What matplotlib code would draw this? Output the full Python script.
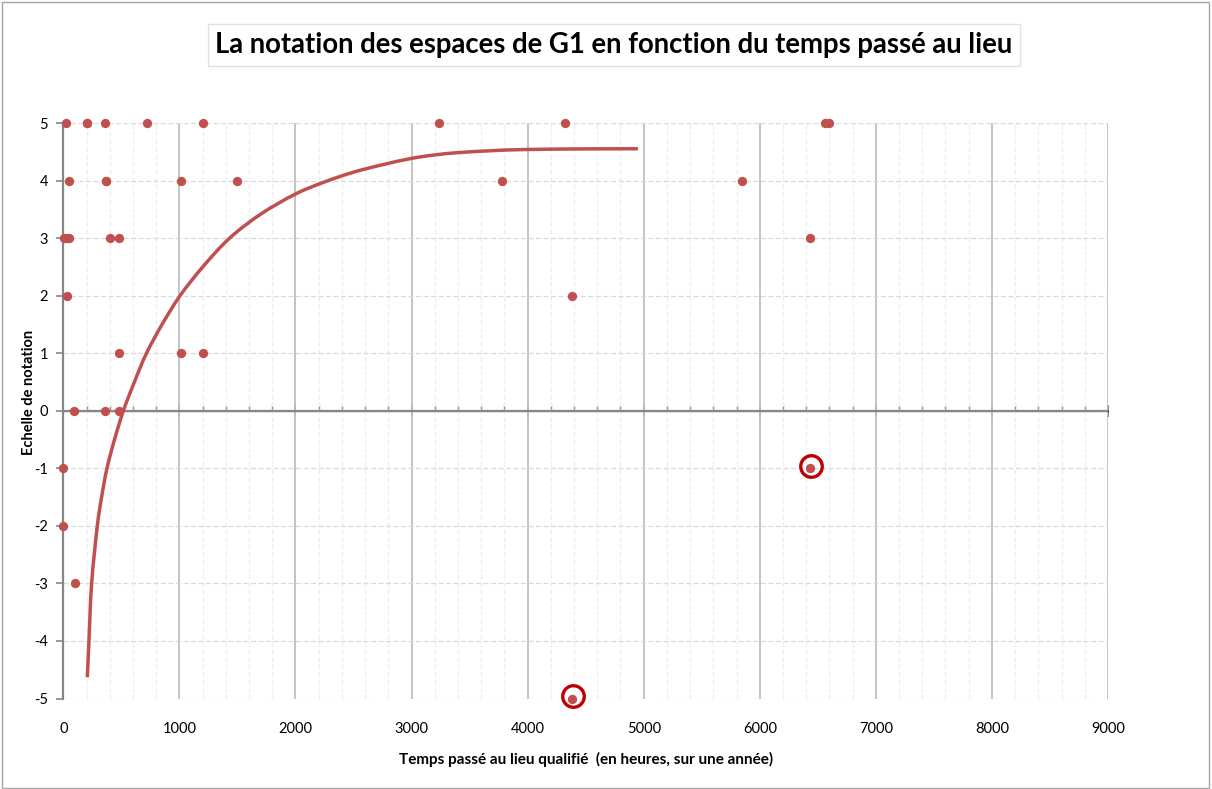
import matplotlib
matplotlib.use("Agg")
import matplotlib.pyplot as plt
import matplotlib.transforms as mtransforms
from matplotlib.patches import Rectangle, PathPatch
from matplotlib.path import Path
from matplotlib.ticker import MultipleLocator

plt.rcParams['font.family'] = ['Lato', 'DejaVu Sans']

# Survey answers: hours spent at the place vs. rating given
hours_5 = [20, 200, 200, 360, 720, 1200, 3240, 4320, 6560, 6600]
hours_4 = [50, 365, 365, 1010, 1500, 3780, 5845]
hours_3 = [5, 30, 50, 400, 480, 6430]
hours_2 = [35, 4380]
hours_1 = [480, 1010, 1200]
hours_0 = [90, 360, 480]
hours_m1 = [0, 6430]
hours_m2 = [0]
hours_m3 = [100]
hours_m5 = [4380]

# Answers singled out with a ring
flag_hours = [6430, 4380]
flag_scores = [-1, -5]

# Hand-traced trend curve
trend_hours = [207, 221, 244, 293, 330, 376, 441, 517, 612, 716, 850, 1005,
               1200, 1431, 1700, 2000, 2250, 2500, 2750, 3000, 3200, 3400,
               3700, 4000, 4500, 4950]
trend_scores = [-4.63, -4.0, -3.0, -2.0, -1.5, -1.0, -0.5, 0.0, 0.5, 1.0, 1.5,
                2.0, 2.5, 3.0, 3.42, 3.77, 3.98, 4.15, 4.28, 4.39, 4.45, 4.49,
                4.525, 4.545, 4.555, 4.557]

x_ticks = [0, 1000, 2000, 3000, 4000, 5000, 6000, 7000, 8000, 9000]
y_ticks = [-5, -4, -3, -2, -1, 0, 1, 2, 3, 4, 5]

groups = [(hours_5, 5), (hours_4, 4), (hours_3, 3), (hours_2, 2), (hours_1, 1),
          (hours_0, 0), (hours_m1, -1), (hours_m2, -2), (hours_m3, -3),
          (hours_m5, -5)]

RED = '#C0504D'
AXIS = '#868686'


def smooth_path(xs, ys):
    """Catmull-Rom spline through the traced points, as cubic Bezier segments."""
    pts = list(zip(xs, ys))
    verts = [pts[0]]
    codes = [Path.MOVETO]
    n = len(pts)
    for i in range(n - 1):
        p0 = pts[i - 1] if i > 0 else pts[i]
        p1 = pts[i]
        p2 = pts[i + 1]
        p3 = pts[i + 2] if i + 2 < n else pts[i + 1]
        c1 = (p1[0] + (p2[0] - p0[0]) / 6, p1[1] + (p2[1] - p0[1]) / 6)
        c2 = (p2[0] - (p3[0] - p1[0]) / 6, p2[1] - (p3[1] - p1[1]) / 6)
        verts += [c1, c2, p2]
        codes += [Path.CURVE4] * 3
    return Path(verts, codes)


W, H = 1212, 789
fig = plt.figure(figsize=(W / 100, H / 100), dpi=100)
fig.patch.set_facecolor('white')
fig.add_artist(Rectangle((2.5 / W, 1.5 / H), (1209 - 2.5) / W, (787.5 - 1.5) / H,
                         transform=fig.transFigure, fill=False,
                         edgecolor='#a6a6a6', linewidth=1.0))

left, right = 63.3 / W, 1108 / W
bottom, top = 1 - 698.5 / H, 1 - 123.3 / H
ax = fig.add_axes([left, bottom, right - left, top - bottom])
ax.set_xlim(0, 9000)
ax.set_ylim(-5, 5)

# gridlines
ax.xaxis.set_minor_locator(MultipleLocator(200))
ax.set_xticks(x_ticks)
ax.set_yticks(y_ticks)
ax.grid(axis='y', which='major', color='#d9d9d9', linestyle=(0, (4, 2)), linewidth=0.9, zorder=0)
ax.grid(axis='x', which='minor', color='#eeeeee', linestyle=(0, (4, 2)), linewidth=0.9, zorder=0)
ax.grid(axis='x', which='major', color='#bfbfbf', linestyle='-', linewidth=1.3, zorder=0)
ax.set_axisbelow(True)

for side in ('top', 'right', 'bottom'):
    ax.spines[side].set_visible(False)
ax.spines['left'].set_color(AXIS)
ax.spines['left'].set_linewidth(1.6)

ax.set_xticklabels([str(v) for v in x_ticks])
ax.tick_params(axis='x', which='both', length=0, pad=17, labelsize=10.5, labelcolor='black')
ax.set_yticklabels([str(v) for v in y_ticks])
ax.tick_params(axis='y', which='major', length=5, width=1.2, color=AXIS,
               direction='out', pad=6, labelsize=10.5, labelcolor='black')

# horizontal axis line through zero with its tick marks
ax.axhline(0, color=AXIS, linewidth=1.6, zorder=2)
zx = ax.secondary_xaxis(0.5)
zx.set_xticks(x_ticks)
zx.xaxis.set_minor_locator(MultipleLocator(200))
zx.tick_params(axis='x', which='major', length=8, width=1.3, color=AXIS,
               direction='inout', labelbottom=False)
zx.tick_params(axis='x', which='minor', length=4, width=1.0, color=AXIS,
               direction='out', labelbottom=False)
zx.spines['bottom'].set_visible(False)
zx.set_xticklabels([])

# trend curve
ax.add_patch(PathPatch(smooth_path(trend_hours, trend_scores), facecolor='none',
                       edgecolor=RED, linewidth=2.5, capstyle='butt',
                       joinstyle='round', zorder=3))

# answers
for hrs, score in groups:
    ax.plot(hrs, [score] * len(hrs), linestyle='none', marker='o',
            markersize=6.7, markerfacecolor=RED, markeredgecolor=RED,
            markeredgewidth=0, zorder=4, clip_on=False)

# rings around the singled-out answers
ring_tr = mtransforms.offset_copy(ax.transData, fig=fig, x=1.5, y=2.5, units='dots')
ax.plot(flag_hours, flag_scores, linestyle='none', marker='o', markersize=15.5,
        markerfacecolor='none', markeredgecolor='#C00000', markeredgewidth=2.4,
        transform=ring_tr, zorder=5, clip_on=False)

# titles
fig.text(614 / W, 1 - 45 / H,
         'La notation des espaces de G1 en fonction du temps passé au lieu',
         ha='center', va='center', fontsize=19.8, fontweight='bold', color='black',
         bbox=dict(boxstyle='square,pad=0.28', facecolor='white',
                   edgecolor='#e3e3d6', linewidth=1.0))
fig.text(586 / W, 1 - 759 / H,
         'Temps passé au lieu qualifié  (en heures, sur une année)',
         ha='center', va='center', fontsize=11, fontweight='bold', color='black')
fig.text(29 / W, 1 - 392 / H, 'Echelle de notation', rotation=90,
         ha='center', va='center', fontsize=10.5, fontweight='bold', color='black')

fig.savefig('out.png', dpi=100, facecolor='white')
